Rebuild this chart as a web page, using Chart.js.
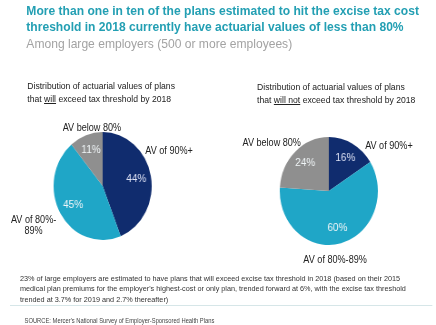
<!DOCTYPE html>
<html>
<head>
<meta charset="utf-8">
<script src="https://cdn.jsdelivr.net/npm/chart.js@4"></script>
<style>
  html, body { margin: 0; padding: 0; background: #fff; overflow: hidden; }
  body { width: 436px; height: 325px; font-family: "Liberation Sans", Arial, sans-serif; }
  #page { position: absolute; left: 0; top: 0; width: 480px; height: 325px; transform: scaleX(0.9083); transform-origin: 0 0; }
  .t { position: absolute; white-space: nowrap; color: #222; }
  #title { left: 29px; top: 3px; font-size: 13.3px; font-weight: bold; line-height: 16px; color: #239fb3; }
  #sub { left: 29px; top: 36px; font-size: 13.3px; line-height: 16px; color: #a3a3a3; }
  .cap { font-size: 9.5px; line-height: 13px; }
  .lbl { font-size: 10px; line-height: 11px; }
  #note { left: 22px; top: 274px; font-size: 8px; line-height: 10.3px; color: #333; }
  #rule { position: absolute; left: 11px; top: 305px; width: 465px; height: 1px; background: #d6e6e8; }
  #src { left: 27px; top: 317px; font-size: 6.4px; color: #444; }
  canvas { position: absolute; }
</style>
</head>
<body>
<div id="page">
  <div class="t" id="title">More than one in ten of the plans estimated to hit the excise tax cost<br>threshold in 2018 currently have actuarial values of less than 80%</div>
  <div class="t" id="sub">Among large employers (500 or more employees)</div>

  <div class="t cap" style="left:30px; top:79px;">Distribution of actuarial values of plans<br>that <u>will</u> exceed tax threshold by 2018</div>
  <div class="t cap" style="left:283px; top:80px;">Distribution of actuarial values of plans<br>that <u>will not</u> exceed tax threshold by 2018</div>

  <canvas id="pieLeft" width="120" height="120" style="left:53px; top:126px;"></canvas>
  <canvas id="pieRight" width="120" height="120" style="left:302px; top:131px;"></canvas>

  <div class="t lbl" style="left:69px; top:122px;">AV below 80%</div>
  <div class="t lbl" style="left:160px; top:145px;">AV of 90%+</div>
  <div class="t lbl" style="left:10px; top:214px; text-align:center; width:54px;">AV of 80%-<br>89%</div>
  <div class="t lbl" style="left:267px; top:137px;">AV below 80%</div>
  <div class="t lbl" style="left:402px; top:140px;">AV of 90%+</div>
  <div class="t lbl" style="left:334px; top:254px;">AV of 80%-89%</div>

  <div class="t" id="note">23% of large employers are estimated to have plans that will exceed excise tax threshold in 2018 (based on their 2015<br>medical plan premiums for the employer's highest-cost or only plan, trended forward at 6%, with the excise tax threshold<br>trended at 3.7% for 2019 and 2.7% thereafter)</div>
  <div id="rule"></div>
  <div class="t" id="src">SOURCE: Mercer's National Survey of Employer-Sponsored Health Plans</div>
</div>

<script>
const categories = ['AV of 90%+', 'AV of 80%-89%', 'AV below 80%'];
const willExceed = [44, 45, 11];
const willNotExceed = [16, 60, 24];
const sliceColors = ['#102c6e', '#1fa6c7', '#8f8f8f'];

// draws the percentages inside each slice
const pctLabels = {
  id: 'pctLabels',
  afterDatasetsDraw(chart) {
    const ctx = chart.ctx;
    const data = chart.data.datasets[0].data;
    ctx.save();
    ctx.font = '11px "Liberation Sans", Arial, sans-serif';
    ctx.textAlign = 'center';
    ctx.textBaseline = 'middle';
    chart.getDatasetMeta(0).data.forEach(function (arc, i) {
      const p = arc.getProps(['x', 'y', 'startAngle', 'endAngle', 'outerRadius'], true);
      const mid = (p.startAngle + p.endAngle) / 2;
      const r = p.outerRadius * 0.7;
      ctx.fillStyle = i === 0 ? '#dfe3f5' : '#f1f6f8';
      ctx.fillText(data[i] + '%', p.x + Math.cos(mid) * r, p.y + Math.sin(mid) * r);
    });
    ctx.restore();
  }
};

function makePie(id, values) {
  return new Chart(document.getElementById(id), {
    type: 'pie',
    data: {
      labels: categories,
      datasets: [{
        data: values,
        backgroundColor: sliceColors,
        borderWidth: 0,
        radius: 54
      }]
    },
    options: {
      responsive: false,
      animation: false,
      layout: { padding: 0 },
      plugins: {
        legend: { display: false },
        tooltip: { enabled: false }
      }
    },
    plugins: [pctLabels]
  });
}

makePie('pieLeft', willExceed);
makePie('pieRight', willNotExceed);
</script>
</body>
</html>
